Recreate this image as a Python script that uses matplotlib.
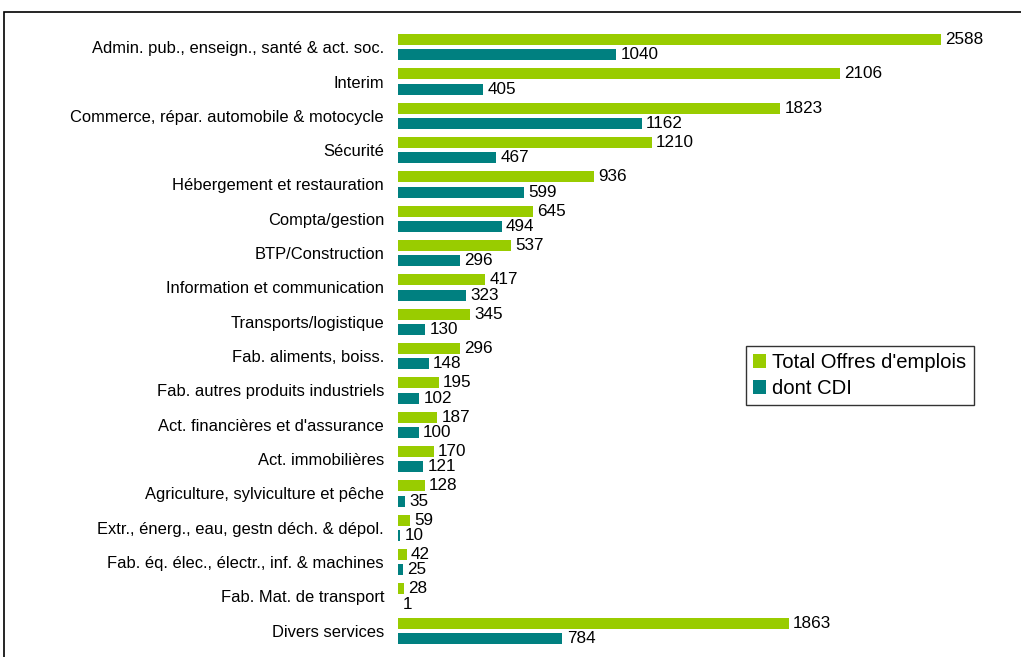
import matplotlib
matplotlib.use("Agg")
import matplotlib.pyplot as plt
from matplotlib.patches import Rectangle
import numpy as np

categories = [
    "Admin. pub., enseign., santé & act. soc.",
    "Interim",
    "Commerce, répar. automobile & motocycle",
    "Sécurité",
    "Hébergement et restauration",
    "Compta/gestion",
    "BTP/Construction",
    "Information et communication",
    "Transports/logistique",
    "Fab. aliments, boiss.",
    "Fab. autres produits industriels",
    "Act. financières et d'assurance",
    "Act. immobilières",
    "Agriculture, sylviculture et pêche",
    "Extr., énerg., eau, gestn déch. & dépol.",
    "Fab. éq. élec., électr., inf. & machines",
    "Fab. Mat. de transport",
    "Divers services",
]
total_offres = [2588, 2106, 1823, 1210, 936, 645, 537, 417, 345, 296, 195, 187, 170, 128, 59, 42, 28, 1863]
dont_cdi = [1040, 405, 1162, 467, 599, 494, 296, 323, 130, 148, 102, 100, 121, 35, 10, 25, 1, 784]
series_names = ["Total Offres d'emplois", "dont CDI"]

plt.rcParams['font.family'] = ['Liberation Sans', 'DejaVu Sans']

W, H = 1021, 657
fig = plt.figure(figsize=(W / 100, H / 100), dpi=100)

# outer frame
fig.patches.append(Rectangle((4 / W, -0.1), 1.2, 1 - 12 / H + 0.1, transform=fig.transFigure,
                             fill=False, edgecolor='black', linewidth=1.2))

ax_left, ax_right = 398, 1000
ax_top, ax_bottom = 30, 648
ax = fig.add_axes([ax_left / W, 1 - ax_bottom / H, (ax_right - ax_left) / W, (ax_bottom - ax_top) / H])

n = len(categories)
y = np.arange(n)
bh = 0.32
off = 0.22
green = '#99CC00'
teal = '#008080'
b1 = ax.barh(y - off, total_offres, height=bh, color=green, label=series_names[0])
b2 = ax.barh(y + off, dont_cdi, height=bh, color=teal, label=series_names[1])

for yi, v in zip(y, total_offres):
    ax.text(v + 20, yi - off, str(v), va='center', ha='left', fontsize=12.3)
for yi, v in zip(y, dont_cdi):
    ax.text(v + 20, yi + off, str(v), va='center', ha='left', fontsize=12.3)

ax.set_xlim(0, (ax_right - ax_left) / 0.2098)
ax.set_ylim(n - 0.5, -0.5)
ax.set_yticks(y)
ax.set_yticklabels(categories, fontsize=11.9)
ax.tick_params(axis='y', length=0, pad=10)
ax.set_xticks([])
for s in ax.spines.values():
    s.set_visible(False)

leg = ax.legend(handles=[b1, b2], loc='upper left',
                bbox_to_anchor=((746 - ax_left) / (ax_right - ax_left), 1 - (346 - ax_top) / (ax_bottom - ax_top)),
                fontsize=14.6, frameon=True, fancybox=False, shadow=False,
                handlelength=0.65, handleheight=0.7, handletextpad=0.3,
                borderpad=0.35, labelspacing=0.35, borderaxespad=0)
leg.get_frame().set_edgecolor('black')
leg.get_frame().set_linewidth(1.0)

fig.savefig('out.png', dpi=100)
